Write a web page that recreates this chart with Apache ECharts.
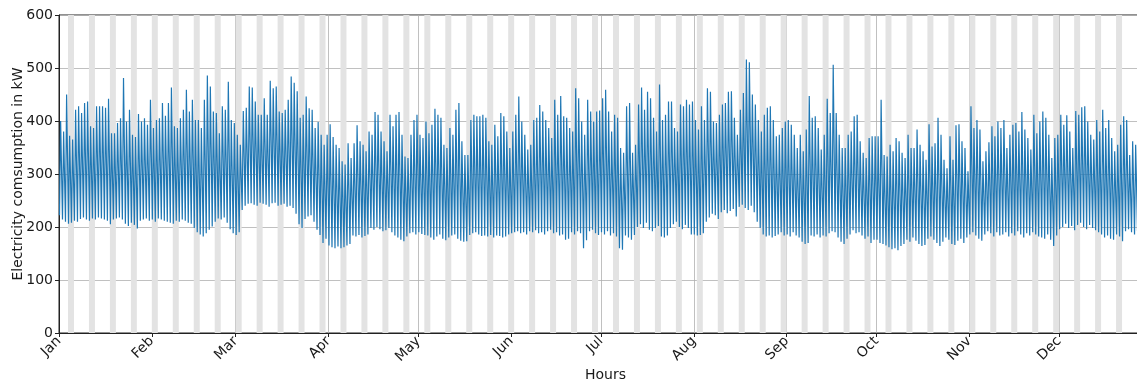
<!DOCTYPE html>
<html>
<head>
<meta charset="utf-8">
<script src="https://cdn.jsdelivr.net/npm/echarts@6/dist/echarts.min.js"></script>
<style>
html, body { margin: 0; padding: 0; background: #fff; }
#container { width: 1137px; height: 382px; }
</style>
</head>
<body>
<div id="container"></div>
<script>
// x axis is in hours since 2014-01-01 00:00
var monthNames = ['Jan', 'Feb', 'Mar', 'Apr', 'May', 'Jun', 'Jul', 'Aug', 'Sep', 'Oct', 'Nov', 'Dec'];
var monthStartDays = [0, 31, 59, 90, 120, 151, 181, 212, 243, 273, 304, 334];
var firstSaturday = 3;   // 2014-01-04
var lowHour = 4;         // night minimum
var highHour = 13;       // daytime peak

// daily peak, kW (one line per month)
var dailyHigh = [
    400, 380, 450, 372, 365, 421, 428, 415, 434, 437, 390, 387, 428, 428, 428, 425, 442, 377, 377, 396, 405, 481, 399, 421, 374, 370, 413, 399, 405, 393, 440,
    387, 402, 405, 434, 410, 434, 463, 390, 387, 405, 421, 459, 418, 440, 402, 402, 387, 440, 486, 465, 418, 415, 377, 428, 421, 474, 402, 396,
    374, 355, 419, 425, 465, 463, 437, 412, 412, 443, 412, 476, 462, 465, 418, 415, 421, 440, 484, 472, 456, 406, 412, 446, 424, 421, 387, 398, 374, 355, 374,
    394, 370, 355, 349, 324, 318, 358, 330, 358, 392, 362, 355, 343, 380, 374, 417, 412, 380, 362, 343, 412, 390, 412, 417, 374, 333, 330, 374, 402, 412,
    374, 368, 399, 377, 393, 423, 412, 406, 355, 349, 387, 374, 421, 434, 362, 336, 336, 402, 412, 409, 409, 412, 406, 362, 355, 393, 371, 415, 409, 380, 349,
    380, 412, 446, 399, 374, 346, 355, 402, 406, 430, 418, 402, 387, 368, 440, 412, 447, 409, 406, 387, 380, 462, 443, 399, 374, 440, 418, 399, 418, 420,
    443, 459, 418, 380, 412, 406, 349, 340, 428, 434, 340, 355, 431, 463, 421, 455, 443, 406, 380, 469, 402, 412, 437, 437, 387, 380, 431, 428, 440, 431, 437,
    402, 384, 428, 402, 462, 455, 399, 396, 412, 431, 434, 455, 456, 406, 374, 421, 453, 516, 511, 450, 431, 402, 380, 412, 425, 428, 402, 371, 374, 387, 399,
    402, 393, 374, 349, 374, 343, 384, 447, 406, 409, 387, 346, 374, 442, 415, 506, 415, 374, 349, 349, 374, 380, 409, 412, 362, 340, 330, 368, 371, 371,
    371, 440, 336, 333, 355, 343, 368, 362, 340, 330, 374, 349, 349, 384, 355, 343, 327, 394, 352, 358, 406, 374, 327, 311, 371, 327, 392, 394, 362, 349, 305,
    428, 387, 402, 384, 324, 343, 360, 390, 371, 399, 387, 402, 349, 374, 393, 396, 380, 417, 384, 368, 346, 412, 377, 399, 418, 406, 374, 330, 368, 374,
    412, 393, 411, 380, 349, 419, 412, 426, 428, 399, 374, 365, 402, 380, 421, 387, 402, 368, 343, 355, 393, 409, 402, 336, 362, 355, 380
];

// daily night minimum, kW
var dailyLow = [
    222, 214, 210, 206, 208, 212, 210, 215, 218, 214, 212, 216, 214, 218, 216, 214, 212, 205, 214, 216, 218, 214, 206, 202, 208, 204, 197, 212, 214, 216, 212,
    214, 210, 216, 214, 212, 210, 208, 206, 212, 210, 214, 212, 208, 206, 198, 190, 186, 182, 188, 195, 201, 210, 216, 214, 218, 208, 196, 188,
    185, 190, 232, 240, 244, 245, 242, 240, 246, 244, 242, 238, 245, 246, 240, 242, 244, 238, 240, 236, 225, 205, 198, 215, 220, 222, 210, 195, 185, 170, 178,
    165, 162, 160, 163, 160, 162, 165, 168, 184, 182, 185, 180, 183, 186, 198, 195, 200, 196, 192, 194, 198, 190, 184, 180, 176, 173, 182, 188, 190, 186,
    190, 187, 185, 184, 180, 176, 182, 186, 178, 175, 180, 184, 186, 178, 174, 172, 173, 185, 188, 190, 186, 183, 184, 182, 185, 180, 184, 183, 180, 182, 186,
    188, 190, 192, 188, 190, 186, 192, 190, 194, 188, 190, 186, 192, 195, 188, 190, 184, 186, 176, 178, 190, 186, 192, 188, 160, 175, 192, 195, 188, 185,
    190, 186, 192, 184, 188, 182, 160, 157, 184, 180, 176, 185, 200, 205, 198, 208, 195, 192, 198, 202, 182, 180, 184, 198, 205, 210, 200, 196, 204, 198, 186,
    186, 184, 185, 188, 210, 218, 225, 222, 215, 228, 232, 226, 230, 234, 220, 238, 242, 236, 232, 240, 228, 210, 198, 186, 182, 184, 180, 183, 186, 190, 184,
    186, 182, 190, 184, 180, 172, 168, 170, 184, 182, 186, 180, 184, 182, 188, 192, 190, 180, 172, 168, 178, 186, 194, 188, 190, 184, 178, 182, 170, 176,
    176, 170, 168, 165, 162, 158, 160, 156, 164, 168, 176, 172, 180, 174, 168, 164, 166, 178, 182, 176, 170, 164, 172, 180, 176, 168, 166, 174, 178, 170, 180,
    186, 190, 184, 178, 174, 186, 192, 188, 182, 190, 184, 186, 190, 182, 188, 184, 192, 186, 180, 188, 184, 190, 186, 182, 180, 178, 186, 176, 164, 184,
    196, 200, 206, 198, 202, 194, 204, 208, 200, 196, 204, 198, 194, 190, 186, 180, 184, 178, 176, 186, 182, 173, 192, 196, 190, 186, 192
];

var monthTicks = monthStartDays.map(function (d) { return d * 24; });

var seriesData = [];
for (var d = 0; d < dailyHigh.length; d++) {
    seriesData.push([d * 24 + lowHour, dailyLow[d]]);
    seriesData.push([d * 24 + highHour, dailyHigh[d]]);
}

// weekends (Sat + Sun) as grey bands
var weekendAreas = [];
for (var s = firstSaturday; s < 365; s += 7) {
    weekendAreas.push([{ xAxis: s * 24 }, { xAxis: Math.min(s + 2, 365) * 24 }]);
}

var textColor = '#1a1a1a';
var font = 'DejaVu Sans';

var myChart = echarts.init(document.getElementById('container'));
var option = {
    animation: false,
    grid: {
        left: 59,
        right: -15,   // the picture is cut off a few days before Dec 31
        top: 15,
        bottom: 49,
        outerBoundsMode: 'none',
        show: true,
        borderColor: '#222',
        borderWidth: 1
    },
    xAxis: {
        type: 'value',
        min: 0,
        max: 8760,
        name: 'Hours',
        nameLocation: 'middle',
        nameGap: 35,
        nameMoveOverlap: false,
        nameTextStyle: { fontSize: 14, color: textColor, fontFamily: font },
        axisLine: { show: true, lineStyle: { color: '#222' } },
        axisTick: { show: true, length: 4, customValues: monthTicks, lineStyle: { color: '#222' } },
        axisLabel: {
            customValues: monthTicks,
            rotate: 45,
            margin: 6,
            fontSize: 14,
            color: textColor,
            fontFamily: font,
            formatter: function (v) {
                var i = monthTicks.indexOf(v);
                return i >= 0 ? monthNames[i] : '';
            }
        },
        splitLine: { show: true, lineStyle: { color: '#b0b0b0', width: 0.8 } }
    },
    yAxis: {
        type: 'value',
        min: 0,
        max: 600,
        interval: 100,
        name: 'Electricity comsumption in kW',
        nameLocation: 'middle',
        nameGap: 34,
        nameMoveOverlap: false,
        nameTextStyle: { fontSize: 14, color: textColor, fontFamily: font },
        axisLine: { show: true, lineStyle: { color: '#222' } },
        axisTick: { show: true, length: 4, lineStyle: { color: '#222' } },
        axisLabel: { margin: 6, fontSize: 14, color: textColor, fontFamily: font },
        splitLine: { show: true, lineStyle: { color: '#b0b0b0', width: 0.8 } }
    },
    series: [
        {
            type: 'line',
            data: seriesData,
            symbol: 'none',
            lineStyle: { color: '#1f77b4', width: 1.2 },
            itemStyle: { color: '#1f77b4' },
            markArea: {
                silent: true,
                itemStyle: { color: '#e3e3e3' },
                data: weekendAreas
            }
        }
    ]
};
myChart.setOption(option);
</script>
</body>
</html>
